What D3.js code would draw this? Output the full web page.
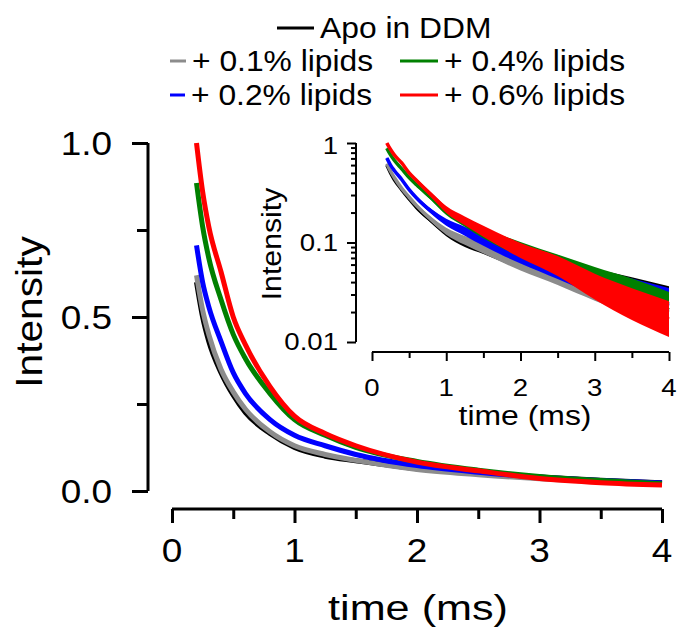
<!DOCTYPE html>
<html>
<head>
<meta charset="utf-8">
<script src="https://cdn.jsdelivr.net/npm/d3@7"></script>
<style>
  body { margin: 0; background: #fff; }
  svg { display: block; font-family: "Liberation Sans", Arial, sans-serif; }
</style>
</head>
<body>
<div id="chart"></div>
<script>
// values
const times = [0.2, 0.25, 0.3, 0.4, 0.5, 0.6, 0.8, 1.0, 1.25, 1.5, 2.0, 2.5, 3.0, 3.5, 4.0];
const apoDDM   = [0.60, 0.50, 0.43, 0.34, 0.275, 0.225, 0.165, 0.125, 0.100, 0.087, 0.064, 0.050, 0.040, 0.031, 0.024];
const lipids01 = [0.62, 0.52, 0.45, 0.35, 0.285, 0.235, 0.170, 0.130, 0.105, 0.088, 0.062, 0.047, 0.035, 0.027, 0.020];
const lipids02 = [0.706, 0.60, 0.53, 0.43, 0.34, 0.28, 0.205, 0.160, 0.130, 0.105, 0.073, 0.054, 0.040, 0.030, 0.023];
const lipids04 = [0.885, 0.76, 0.67, 0.55, 0.45, 0.38, 0.28, 0.205, 0.160, 0.125, 0.085, 0.060, 0.042, 0.030, 0.021];
const lipids06 = [1.0, 0.86, 0.76, 0.63, 0.50, 0.42, 0.30, 0.215, 0.165, 0.130, 0.083, 0.058, 0.036, 0.024, 0.017];
// half width of the noisy trace in the log inset (decades)
const noiseDec = [0.01, 0.01, 0.01, 0.012, 0.015, 0.018, 0.025, 0.035, 0.045, 0.055, 0.075, 0.1, 0.13, 0.16, 0.18];

const seriesNames = ['Apo in DDM', '+ 0.1% lipids', '+ 0.2% lipids', '+ 0.4% lipids', '+ 0.6% lipids'];
const seriesColors = ['#000000', '#8c8c8c', '#0000ff', '#008000', '#ff0000'];
const seriesValues = [apoDDM, lipids01, lipids02, lipids04, lipids06];

const mainXTicks = [0, 1, 2, 3, 4];
const mainYTicks = [0, 0.5, 1];
const insetYTicks = [0.01, 0.1, 1];

const W = 679, H = 631;
const svg = d3.select('#chart').append('svg').attr('width', W).attr('height', H);

const series = seriesNames.map((name, i) => ({
    name,
    color: seriesColors[i],
    values: times.map((t, j) => ({ t, v: seriesValues[i][j], n: noiseDec[j] }))
}));

function label(g, x, y, txt, size, anchor, sx, rot) {
    const tr = `translate(${x},${y})` + (rot ? ` rotate(${rot})` : '') + ` scale(${sx},1)`;
    return g.append('text')
        .attr('transform', tr)
        .attr('text-anchor', anchor)
        .style('font-size', size + 'px')
        .attr('fill', '#000')
        .text(txt);
}

// ---------- main plot ----------
const x = d3.scaleLinear().domain([0, 4]).range([172, 662]);
const y = d3.scaleLinear().domain([0, 1]).range([491, 143]);

const main = svg.append('g');

const line = d3.line().x(d => x(d.t)).y(d => y(d.v)).curve(d3.curveMonotoneX);
main.selectAll('.trace')
    .data(series)
    .enter().append('path')
    .attr('fill', 'none')
    .attr('stroke', d => d.color)
    .attr('stroke-width', 5)
    .attr('stroke-linejoin', 'round')
    .attr('d', d => line(d.values));

// y axis
const yAx = main.append('g').attr('transform', 'translate(148,0)')
    .call(d3.axisLeft(y).tickValues([0, 0.25, 0.5, 0.75, 1]).tickSize(15).tickFormat(''));
yAx.select('.domain').attr('d', `M0,${y(0)}V${y(1)}`);
yAx.selectAll('.tick line').attr('x2', d => mainYTicks.includes(d) ? -16 : -11);
yAx.selectAll('path, line').attr('stroke', '#000').attr('stroke-width', 3);
mainYTicks.forEach(v => label(main, 112, y(v) + 12, d3.format('.1f')(v), 33, 'end', 1.12));

// x axis
const xAx = main.append('g').attr('transform', 'translate(0,509)')
    .call(d3.axisBottom(x).tickValues(d3.range(0, 4.01, 0.5)).tickSize(14).tickFormat(''));
xAx.select('.domain').attr('d', `M${x(0)},0H${x(4)}`);
xAx.selectAll('.tick line').attr('y2', d => mainXTicks.includes(d) ? 14 : 10);
xAx.selectAll('path, line').attr('stroke', '#000').attr('stroke-width', 3);
mainXTicks.forEach(v => label(main, x(v), 562, v, 33, 'middle', 1.12));

label(main, 418, 620, 'time (ms)', 36, 'middle', 1.2);
label(main, 42, 312, 'Intensity', 36, 'middle', 1.13, -90);

// ---------- inset ----------
const xi = d3.scaleLinear().domain([0, 4]).range([372, 669]);
const yi = d3.scaleLog().domain([0.01, 1]).range([342, 143]).clamp(true);

const inset = svg.append('g');

const band = d3.area()
    .x(d => xi(d.t))
    .y0(d => yi(d.v * Math.pow(10, -d.n)))
    .y1(d => yi(d.v * Math.pow(10, d.n)))
    .curve(d3.curveMonotoneX);
const lineI = d3.line().x(d => xi(d.t)).y(d => yi(d.v)).curve(d3.curveMonotoneX);

const traces = inset.selectAll('.itrace').data(series).enter().append('g');
traces.append('path')
    .attr('fill', d => d.color)
    .attr('d', d => band(d.values));
traces.append('path')
    .attr('fill', 'none')
    .attr('stroke', d => d.color)
    .attr('stroke-width', 3.5)
    .attr('d', d => lineI(d.values));

// log y axis with minor ticks
const logTicks = [];
[0.01, 0.1].forEach(dec => d3.range(1, 10).forEach(k => logTicks.push(+(dec * k).toPrecision(3))));
logTicks.push(1);
const yiAx = inset.append('g').attr('transform', 'translate(356,0)')
    .call(d3.axisLeft(yi).tickValues(logTicks).tickSize(9).tickFormat(''));
yiAx.select('.domain').attr('d', `M0,${yi(0.01)}V${yi(1)}`);
yiAx.selectAll('.tick line').attr('x2', d => insetYTicks.includes(d) ? -9 : -5);
yiAx.selectAll('path, line').attr('stroke', '#000').attr('stroke-width', 2);
insetYTicks.forEach(v => label(inset, 338, yi(v) + (v === 1 ? 11 : 8), String(v), 23, 'end', 1.2));

const xiAx = inset.append('g').attr('transform', 'translate(0,352)')
    .call(d3.axisBottom(xi).tickValues(d3.range(0, 4.01, 0.5)).tickSize(9).tickFormat(''));
xiAx.select('.domain').attr('d', `M${xi(0)},0H${xi(4)}`);
xiAx.selectAll('.tick line').attr('y2', d => mainXTicks.includes(d) ? 9 : 6);
xiAx.selectAll('path, line').attr('stroke', '#000').attr('stroke-width', 2);
mainXTicks.forEach(v => label(inset, xi(v), 396, v, 24, 'middle', 1.15));

label(inset, 525, 425, 'time (ms)', 28, 'middle', 1.14);
label(inset, 281, 244, 'Intensity', 27, 'middle', 1.12, -90);

// ---------- legend ----------
const legendItems = [
    { i: 0, x1: 277, x2: 314, y: 28 },
    { i: 1, x1: 170, x2: 186, y: 61 },
    { i: 3, x1: 400, x2: 438, y: 61 },
    { i: 2, x1: 170, x2: 185, y: 95 },
    { i: 4, x1: 400, x2: 438, y: 95 }
];
const legend = svg.append('g');
legendItems.forEach(it => {
    legend.append('line')
        .attr('x1', it.x1).attr('x2', it.x2)
        .attr('y1', it.y).attr('y2', it.y)
        .attr('stroke', seriesColors[it.i])
        .attr('stroke-width', 3);
    label(legend, it.x2 + 6, it.y + 10, seriesNames[it.i], 30, 'start', 1.06);
});
</script>
</body>
</html>
